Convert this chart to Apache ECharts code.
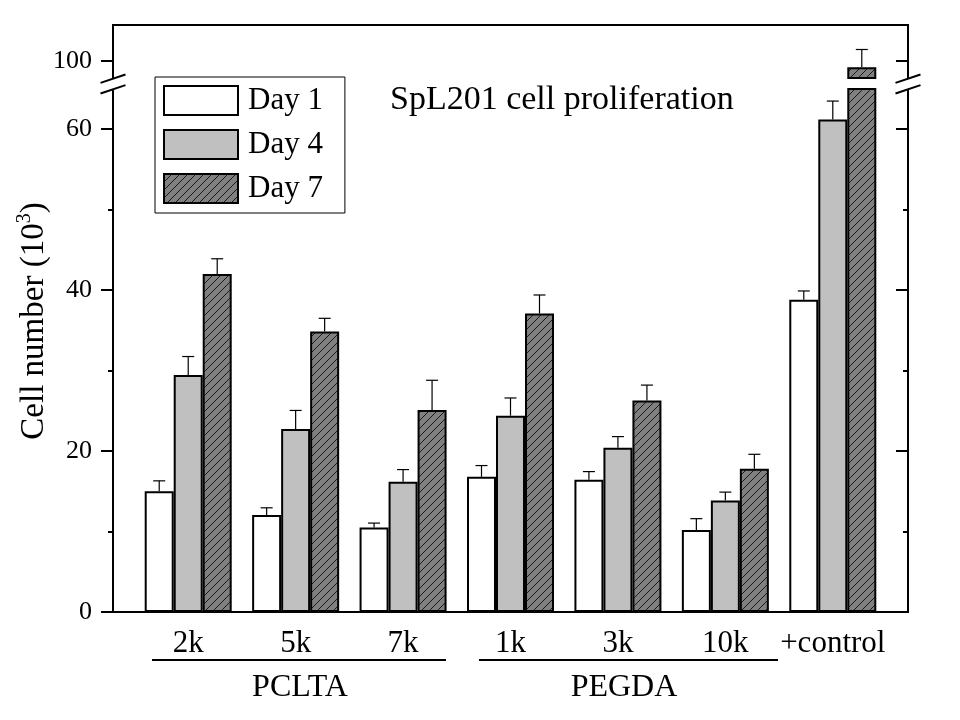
<!DOCTYPE html>
<html>
<head>
<meta charset="utf-8">
<title>SpL201 cell proliferation</title>
<script src="https://cdn.jsdelivr.net/npm/echarts@6.0.0/dist/echarts.min.js"></script>
<style>
  html, body { margin: 0; padding: 0; background: #fff; }
  #chart { width: 960px; height: 720px; }
</style>
</head>
<body>
<div id="chart"></div>
<script>
const categories = ['2k', '5k', '7k', '1k', '3k', '10k', '+control'];
const day1 = [15.0, 12.05, 10.5, 16.8, 16.45, 10.2, 38.8];
const day1Err = [1.3, 0.9, 0.55, 1.4, 1.0, 1.4, 1.1];
const day4 = [29.45, 22.75, 16.2, 24.4, 20.4, 13.85, 61.2];
const day4Err = [2.3, 2.3, 1.5, 2.2, 1.4, 1.05, 2.3];
const day7 = [42.0, 34.85, 25.1, 37.1, 26.3, 17.8, 99.25];
const day7Err = [1.9, 1.65, 3.7, 2.3, 1.9, 1.8, 2.2];

// broken y axis: lower part and upper part
const lowerRange = [0, 65];
const upperRange = [97.9, 104.5];
const lowerTicks = [0, 20, 40, 60];
const lowerMinorTicks = [10, 30, 50];
const upperTicks = [100];

const FONT = "'Liberation Serif', 'Times New Roman', serif";
const BAR_W = 29;

function hatchPattern() {
  const c = document.createElement('canvas');
  c.width = 8;
  c.height = 8;
  const g = c.getContext('2d');
  g.fillStyle = '#808080';
  g.fillRect(0, 0, 8, 8);
  g.strokeStyle = '#000';
  g.lineWidth = 0.8;
  g.beginPath();
  for (const k of [0, 8, 16]) {
    g.moveTo(k - 9, 9);
    g.lineTo(9, k - 9);
  }
  g.stroke();
  return { image: c, repeat: 'repeat' };
}

const days = [
  { name: 'Day 1', values: day1, errs: day1Err, fill: '#ffffff' },
  { name: 'Day 4', values: day4, errs: day4Err, fill: '#c0c0c0' },
  { name: 'Day 7', values: day7, errs: day7Err, fill: hatchPattern() }
];

function yAxisFor(gridIndex, range, side, ticks, len, withLabels) {
  return {
    type: 'value',
    gridIndex,
    position: side,
    offset: 21.5,
    min: range[0],
    max: range[1],
    axisLine: { show: false },
    splitLine: { show: false },
    axisTick: {
      show: true,
      customValues: ticks,
      inside: side === 'right',
      length: len,
      lineStyle: { color: '#000', width: 2 }
    },
    axisLabel: withLabels
      ? { show: true, customValues: ticks, margin: 21, color: '#000', fontFamily: FONT, fontSize: 26 }
      : { show: false }
  };
}

function errorSeries(day, slot, gridIndex, keep) {
  const data = [];
  day.values.forEach((v, i) => {
    if (keep(v, v + day.errs[i])) data.push([i, v, v + day.errs[i]]);
  });
  const axisIdx = gridIndex === 0 ? 0 : 2;
  return {
    type: 'custom',
    name: day.name + ' err',
    xAxisIndex: gridIndex,
    yAxisIndex: axisIdx,
    z: 4,
    silent: true,
    encode: { x: 0, y: [1, 2] },
    data,
    renderItem: (params, api) => {
      const base = api.coord([api.value(0), api.value(1)]);
      const top = api.coord([api.value(0), api.value(2)]);
      const cx = base[0] + (slot - 1) * BAR_W;
      const style = { stroke: '#000', lineWidth: 1.2 };
      return {
        type: 'group',
        children: [
          { type: 'line', shape: { x1: cx, y1: base[1], x2: cx, y2: top[1] }, style },
          { type: 'line', shape: { x1: cx - 6, y1: top[1], x2: cx + 6, y2: top[1] }, style }
        ]
      };
    }
  };
}

const series = [];
days.forEach((day) => {
  const itemStyle = { color: day.fill, borderColor: '#000', borderWidth: 2 };
  series.push({
    name: day.name,
    type: 'bar',
    xAxisIndex: 1,
    yAxisIndex: 2,
    barWidth: BAR_W,
    barGap: '0%',
    clip: true,
    itemStyle,
    data: day.values
  });
  series.push({
    name: day.name,
    type: 'bar',
    xAxisIndex: 0,
    yAxisIndex: 0,
    barWidth: BAR_W,
    barGap: '0%',
    clip: true,
    itemStyle,
    data: day.values.map((v) => (v > upperRange[0] ? v : '-'))
  });
});
days.forEach((day, slot) => {
  series.push(errorSeries(day, slot, 1, (v, t) => t <= lowerRange[1]));
  series.push(errorSeries(day, slot, 0, (v, t) => v >= upperRange[0]));
});

function breakMark(cx, cy) {
  return [
    {
      type: 'polygon',
      z: 100,
      shape: { points: [[cx - 12.5, cy - 1.1], [cx + 12.5, cy - 9.5], [cx + 12.5, cy + 1.1], [cx - 12.5, cy + 9.5]] },
      style: { fill: '#fff' }
    },
    { type: 'line', z: 101, shape: { x1: cx - 12.5, y1: cy - 1.1, x2: cx + 12.5, y2: cy - 9.5 }, style: { stroke: '#000', lineWidth: 2 } },
    { type: 'line', z: 101, shape: { x1: cx - 12.5, y1: cy + 9.5, x2: cx + 12.5, y2: cy + 1.1 }, style: { stroke: '#000', lineWidth: 2 } }
  ];
}

const chart = echarts.init(document.getElementById('chart'), null, { renderer: 'canvas' });

chart.setOption({
  animation: false,
  backgroundColor: '#fff',
  title: {
    text: 'SpL201 cell proliferation',
    left: 390,
    top: 83,
    padding: 0,
    textStyle: { color: '#000', fontFamily: FONT, fontSize: 34, fontWeight: 'normal' }
  },
  legend: {
    data: ['Day 1', 'Day 4', 'Day 7'],
    orient: 'vertical',
    left: 155,
    top: 77,
    padding: [8, 22, 9, 8],
    itemWidth: 74,
    itemHeight: 29,
    itemGap: 13,
    icon: 'rect',
    borderColor: '#000',
    borderWidth: 1,
    backgroundColor: '#fff',
    selectedMode: false,
    textStyle: { color: '#000', fontFamily: FONT, fontSize: 31, lineHeight: 29, padding: [0, 0, 0, 5] }
  },
  grid: [
    { left: 134.5, width: 752, top: 25, height: 53 },
    { left: 134.5, width: 752, top: 89, height: 523 },
    { left: 113, width: 795, top: 25, height: 587, show: true, borderColor: '#000', borderWidth: 2 }
  ],
  xAxis: [
    { type: 'category', gridIndex: 0, data: categories, show: false },
    {
      type: 'category',
      gridIndex: 1,
      data: categories,
      axisLine: { show: false },
      axisTick: { show: false },
      axisLabel: { interval: 0, color: '#000', fontFamily: FONT, fontSize: 31, margin: 16 }
    },
    { type: 'value', gridIndex: 2, show: false }
  ],
  yAxis: [
    yAxisFor(0, upperRange, 'left', upperTicks, 12, true),
    yAxisFor(0, upperRange, 'right', upperTicks, 12, false),
    yAxisFor(1, lowerRange, 'left', lowerTicks, 12, true),
    yAxisFor(1, lowerRange, 'left', lowerMinorTicks, 5, false),
    yAxisFor(1, lowerRange, 'right', lowerTicks, 12, false),
    yAxisFor(1, lowerRange, 'right', lowerMinorTicks, 5, false),
    { type: 'value', gridIndex: 2, show: false }
  ],
  graphic: [
    ...breakMark(113, 84),
    ...breakMark(908, 84),
    { type: 'line', shape: { x1: 152, y1: 660, x2: 446, y2: 660 }, style: { stroke: '#000', lineWidth: 2 } },
    { type: 'line', shape: { x1: 479, y1: 660, x2: 778, y2: 660 }, style: { stroke: '#000', lineWidth: 2 } },
    {
      type: 'text', x: 300, y: 688,
      style: { text: 'PCLTA', fill: '#000', font: '32px ' + FONT, textAlign: 'center', textVerticalAlign: 'middle' }
    },
    {
      type: 'text', x: 624, y: 688,
      style: { text: 'PEGDA', fill: '#000', font: '32px ' + FONT, textAlign: 'center', textVerticalAlign: 'middle' }
    },
    {
      type: 'text', x: 33, y: 321, rotation: Math.PI / 2,
      style: {
        text: '{a|Cell number (10}{s|3}{a|)}',
        fill: '#000',
        textAlign: 'center',
        textVerticalAlign: 'middle',
        rich: {
          a: { fontFamily: FONT, fontSize: 33, lineHeight: 36, verticalAlign: 'bottom' },
          s: { fontFamily: FONT, fontSize: 20, lineHeight: 36, verticalAlign: 'top', padding: [0, 0, 18, 0] }
        }
      }
    }
  ],
  series
});
</script>
</body>
</html>
